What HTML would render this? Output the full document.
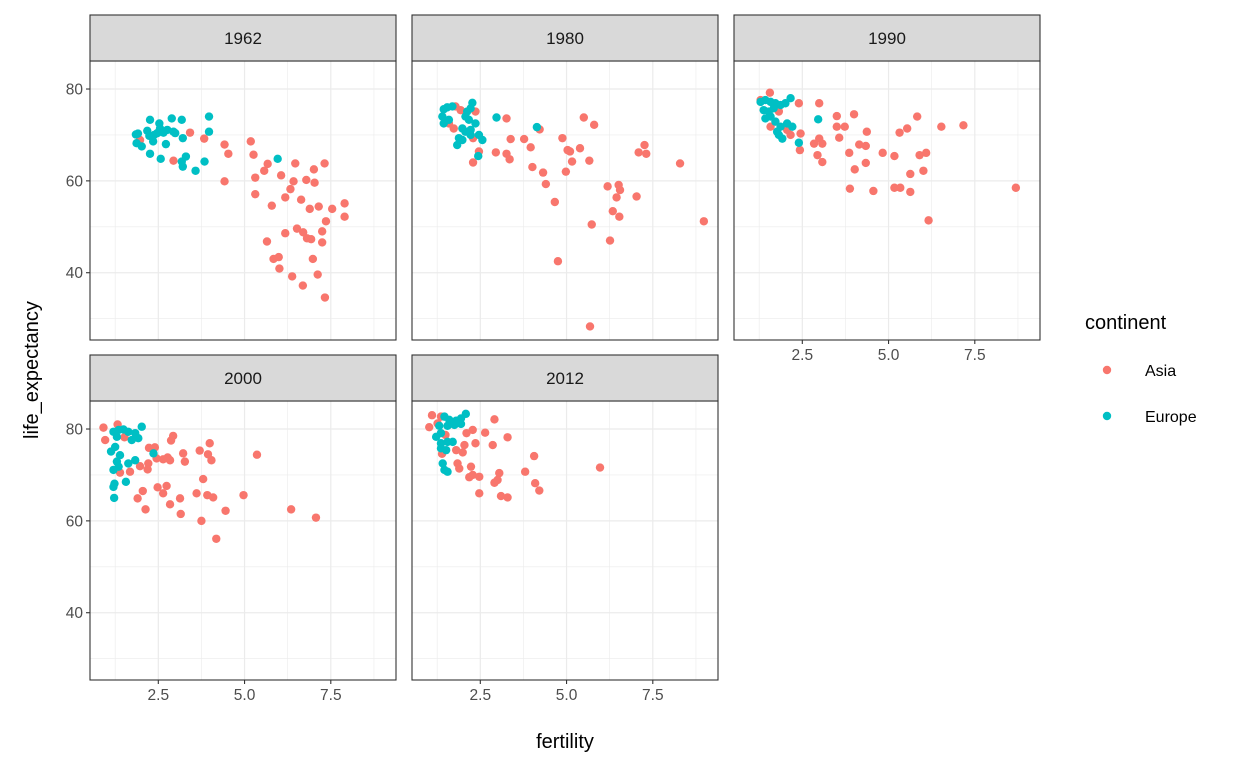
<!DOCTYPE html>
<html><head><meta charset="utf-8"><style>
body{margin:0;background:#fff;}
svg{display:block;font-family:"Liberation Sans",Arial,sans-serif;}
</style></head><body>
<svg id="chart" width="1248" height="768" xmlns="http://www.w3.org/2000/svg"></svg>
<script>
const years = ["1962","1980","1990","2000","2012"];
const xTicks = [2.5, 5.0, 7.5];
const xTickLabels = ["2.5","5.0","7.5"];
const yTicks = [40, 60, 80];
const yTickLabels = ["40","60","80"];
const xMinor = [1.25,3.75,6.25,8.75];
const yMinor = [30,50,70];
const continents = ["Asia","Europe"];
const colors = ["#F8766D","#00BFC4"];

const asia1962 = [[1.97,68.9],[3.42,70.5],[2.94,64.4],[3.83,69.2],[4.42,67.9],[4.53,65.9],[4.42,59.9],[5.18,68.6],[5.26,65.7],[5.31,60.7],[5.31,57.1],[5.57,62.2],[5.67,63.7],[5.79,54.6],[6.06,61.2],[6.18,56.4],[6.33,58.2],[6.42,59.9],[6.47,63.8],[6.52,49.6],[6.64,55.9],[6.70,48.8],[6.81,47.5],[6.93,47.3],[6.79,60.2],[7.03,59.6],[7.01,62.5],[6.89,53.9],[7.15,54.4],[7.32,63.8],[7.36,51.2],[7.25,49.0],[7.25,46.6],[7.54,53.9],[7.90,55.1],[7.90,52.2],[5.65,46.8],[5.84,43.0],[5.99,43.4],[6.01,40.9],[6.18,48.6],[6.38,39.2],[6.69,37.2],[6.98,43.0],[7.12,39.6],[7.33,34.6]];
const europe1962 = [[1.85,70.1],[1.91,70.3],[1.87,68.2],[2.02,67.5],[2.18,70.9],[2.26,73.3],[2.24,69.8],[2.26,65.9],[2.35,68.6],[2.38,70.0],[2.47,70.4],[2.53,72.5],[2.55,71.4],[2.57,64.8],[2.65,70.5],[2.72,68.0],[2.76,71.1],[2.89,73.6],[2.94,70.7],[2.99,70.4],[3.18,73.3],[3.21,69.3],[3.18,64.2],[3.21,63.1],[3.30,65.3],[3.58,62.2],[3.84,64.2],[3.97,74.0],[3.97,70.7],[5.96,64.8]];
const asia1980 = [[1.78,76.2],[1.93,75.4],[2.36,75.1],[1.59,72.5],[1.73,71.4],[2.29,69.3],[2.46,66.4],[2.29,64.0],[2.95,66.2],[3.26,73.6],[3.26,65.9],[3.35,64.7],[3.38,69.1],[3.77,69.1],[3.96,67.3],[4.22,71.2],[4.01,63.0],[4.32,61.8],[4.40,59.3],[4.66,55.4],[4.75,42.5],[4.88,69.3],[5.03,66.7],[5.10,66.4],[5.16,64.2],[4.98,62.0],[5.39,67.1],[5.50,73.8],[5.80,72.2],[5.66,64.4],[5.73,50.5],[5.68,28.3],[6.19,58.8],[6.51,59.1],[6.55,58.0],[6.45,56.4],[6.34,53.4],[6.53,52.2],[6.26,47.0],[7.03,56.6],[7.09,66.2],[7.26,67.8],[7.31,65.9],[8.29,63.8],[8.98,51.2]];
const europe1980 = [[1.44,75.6],[1.54,76.0],[1.69,76.2],[1.40,74.0],[1.44,72.5],[1.59,73.3],[2.27,77.0],[2.22,75.8],[2.12,75.1],[2.07,74.0],[2.17,73.3],[2.36,72.5],[1.98,71.4],[2.07,70.7],[2.22,71.1],[1.88,69.3],[1.83,67.8],[1.98,68.9],[2.22,70.0],[2.46,70.0],[2.56,68.9],[2.97,73.8],[4.14,71.7],[2.44,65.4]];
const asia1990 = [[1.56,79.2],[1.29,77.6],[2.40,76.9],[2.99,76.9],[1.58,71.8],[1.82,75.1],[2.06,71.1],[2.16,70.0],[2.45,70.3],[2.43,66.7],[2.99,69.2],[2.84,68.1],[3.08,68.1],[2.94,65.6],[3.08,64.1],[3.50,74.1],[3.50,71.8],[3.73,71.8],[4.00,74.5],[3.57,69.4],[3.86,66.1],[4.02,62.5],[4.37,70.7],[4.15,67.9],[4.34,67.6],[4.34,63.9],[4.83,66.1],[5.17,65.4],[5.32,70.5],[5.54,71.4],[5.83,74.0],[5.90,65.6],[6.09,66.1],[5.63,61.5],[6.01,62.2],[6.53,71.8],[7.17,72.1],[3.88,58.3],[4.56,57.8],[5.17,58.5],[5.34,58.5],[5.63,57.6],[6.16,51.4],[8.69,58.5]];
const europe1990 = [[1.29,77.2],[1.43,77.6],[1.58,77.2],[1.72,76.9],[1.38,75.4],[1.53,75.1],[1.67,75.8],[1.87,76.5],[2.01,76.9],[2.16,78.0],[1.43,73.6],[1.58,74.0],[1.72,72.9],[1.87,71.8],[2.06,72.5],[2.21,71.8],[1.82,70.0],[1.92,69.2],[1.77,70.7],[2.96,73.4],[2.40,68.3]];
const asia2000 = [[0.91,80.3],[1.32,81.0],[0.96,77.6],[1.52,78.2],[1.39,70.5],[1.68,70.7],[1.97,71.9],[2.21,72.5],[2.19,71.2],[2.23,75.9],[2.40,76.0],[2.45,73.6],[2.64,73.4],[2.84,73.2],[2.77,73.8],[2.87,77.5],[2.93,78.5],[3.22,74.7],[3.27,72.9],[3.70,75.3],[3.99,76.9],[3.94,74.5],[4.04,73.2],[3.80,69.1],[5.36,74.4],[2.05,66.5],[1.90,64.9],[2.13,62.5],[2.48,67.3],[2.74,67.6],[2.64,66.0],[2.84,63.6],[3.13,64.9],[3.15,61.5],[3.61,66.0],[3.92,65.6],[4.09,65.1],[3.75,60.0],[4.18,56.1],[4.45,62.2],[4.97,65.6],[6.35,62.5],[7.07,60.7]];
const europe2000 = [[1.20,79.4],[1.35,79.8],[1.49,79.9],[1.63,79.4],[1.83,79.1],[2.02,80.5],[1.30,78.3],[1.73,77.6],[1.92,78.0],[1.13,75.1],[1.25,76.1],[1.39,74.3],[1.30,72.9],[1.20,71.1],[1.35,71.8],[1.63,72.5],[1.83,73.2],[1.20,67.4],[1.23,68.1],[1.22,65.0],[1.56,68.5],[2.36,74.7]];
const asia2012 = [[1.10,83.0],[1.02,80.4],[1.36,82.7],[1.26,81.2],[1.49,78.7],[1.39,74.6],[2.10,79.1],[2.28,79.8],[2.04,76.5],[2.36,76.9],[2.64,79.2],[2.91,82.1],[2.86,76.5],[3.29,78.2],[1.80,75.4],[1.99,74.9],[1.84,72.5],[1.89,71.4],[2.23,71.8],[2.28,70.0],[2.47,69.6],[2.18,69.5],[2.91,68.3],[3.05,70.4],[3.00,68.9],[2.47,66.0],[3.10,65.4],[3.29,65.1],[3.80,70.7],[4.06,74.1],[4.09,68.2],[4.21,66.6],[5.97,71.6]];
const europe2012 = [[1.31,80.7],[1.46,82.7],[1.60,82.0],[1.80,81.8],[1.94,82.3],[2.08,83.3],[1.55,80.7],[1.75,80.9],[1.94,81.1],[1.22,78.3],[1.36,79.1],[1.36,76.9],[1.55,77.2],[1.70,77.2],[1.36,75.8],[1.51,75.4],[1.41,72.5],[1.46,71.1],[1.55,70.7]];

const asiaByYear = [asia1962, asia1980, asia1990, asia2000, asia2012];
const europeByYear = [europe1962, europe1980, europe1990, europe2000, europe2012];

const NS = "http://www.w3.org/2000/svg";
const svg = document.getElementById("chart");
function mk(tag, attrs, parent){
  const e = document.createElementNS(NS, tag);
  for (const k in attrs) e.setAttribute(k, attrs[k]);
  (parent || svg).appendChild(e);
  return e;
}
const colLeft = [90, 412, 734], rowTop = [61, 401];
const PW = 306, PH = 279, STRIP = 46;
const xMin = 0.52, xMax = 9.39, yMin = 25.35, yMax = 86.1;
function sx(v, px){ return px + (v - xMin) / (xMax - xMin) * PW; }
function sy(v, py){ return py + (yMax - v) / (yMax - yMin) * PH; }

years.forEach((yr, i) => {
  const c = i % 3, r = Math.floor(i / 3);
  const px = colLeft[c], py = rowTop[r];
  const g = mk("g", {});
  
  
  const bg = mk("rect", {x:px, y:py, width:PW, height:PH, fill:"#fff"}, g);
  
  
  xMinor.forEach(v => { const l = mk("line", {x1:sx(v,px), x2:sx(v,px), y1:py, y2:py+PH, stroke:"#EBEBEB", "stroke-width":0.6}, g);   });
  yMinor.forEach(v => { const l = mk("line", {x1:px, x2:px+PW, y1:sy(v,py), y2:sy(v,py), stroke:"#EBEBEB", "stroke-width":0.6}, g);   });
  xTicks.forEach(v => { const l = mk("line", {x1:sx(v,px), x2:sx(v,px), y1:py, y2:py+PH, stroke:"#EBEBEB", "stroke-width":1.2}, g);   });
  yTicks.forEach(v => { const l = mk("line", {x1:px, x2:px+PW, y1:sy(v,py), y2:sy(v,py), stroke:"#EBEBEB", "stroke-width":1.2}, g);   });
  [asiaByYear[i], europeByYear[i]].forEach((pts, k) => {
    pts.forEach(p => {
      const d = mk("circle", {cx:sx(p[0],px), cy:sy(p[1],py), r:4.2, fill:colors[k]}, g);
      
      
    });
  });
  const border = mk("rect", {x:px, y:py, width:PW, height:PH, fill:"none", stroke:"#333", "stroke-width":1.1}, g);
  
  
  const st = mk("rect", {x:px, y:py-STRIP, width:PW, height:STRIP, fill:"#D9D9D9", stroke:"#333", "stroke-width":1.1}, g);
  
  
  const stt = mk("text", {x:px+PW/2, y:py-STRIP/2+6, "text-anchor":"middle", "font-size":"17", fill:"#1A1A1A"}, g);
  stt.textContent = yr;
  
  
  if (c === 0) {
    yTicks.forEach((v, j) => {
      const t = mk("line", {x1:px-4, x2:px, y1:sy(v,py), y2:sy(v,py), stroke:"#333", "stroke-width":1.1}, g);
       
      const tl = mk("text", {x:px-7, y:sy(v,py)+5.5, "text-anchor":"end", "font-size":"15.5", fill:"#4D4D4D"}, g);
      tl.textContent = yTickLabels[j];
       
    });
  }
  if (r === 1 || i === 2) {
    xTicks.forEach((v, j) => {
      const t = mk("line", {x1:sx(v,px), x2:sx(v,px), y1:py+PH, y2:py+PH+4, stroke:"#333", "stroke-width":1.1}, g);
       
      const tl = mk("text", {x:sx(v,px), y:py+PH+20, "text-anchor":"middle", "font-size":"15.5", fill:"#4D4D4D"}, g);
      tl.textContent = xTickLabels[j];
       
    });
  }
});
</script>
<svg width="0" height="0"></svg>
<div style="position:absolute;left:0;top:0;width:1248px;height:768px;pointer-events:none;">
<svg width="1248" height="768" style="position:absolute;left:0;top:0;font-family:'Liberation Sans',Arial,sans-serif;">
<text x="565" y="748" text-anchor="middle" font-size="20" fill="#000">fertility</text>
<text transform="translate(38,370) rotate(-90)" text-anchor="middle" font-size="20" fill="#000">life_expectancy</text>
<text x="1085" y="329" font-size="20" fill="#000">continent</text>
<circle cx="1107" cy="370" r="4.2" fill="#F8766D"/>
<text x="1145" y="376" font-size="16" fill="#000">Asia</text>
<circle cx="1107" cy="416" r="4.2" fill="#00BFC4"/>
<text x="1145" y="422" font-size="16" fill="#000">Europe</text>
</svg>
</div>
</body></html>
